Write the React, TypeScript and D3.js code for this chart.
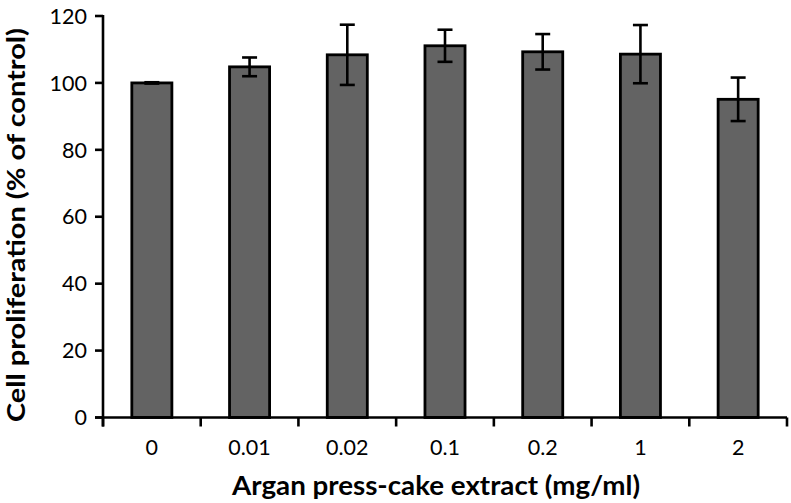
import React from "react";
import * as d3 from "d3";

const categories = ["0", "0.01", "0.02", "0.1", "0.2", "1", "2"];
const values = [100, 104.8, 108.4, 111.1, 109.3, 108.6, 95.1];
const errors = [0.2, 2.8, 9.0, 4.8, 5.3, 8.7, 6.5];
const yTicks = [0, 20, 40, 60, 80, 100, 120];

const W = 791;
const H = 503;
const left = 103;
const right = 787;
const top = 16;
const bottom = 417.5;
const FONT = "Lato, 'Open Sans', sans-serif";

export default function App() {
  const x = d3.scaleBand<string>().domain(categories).range([left, right]).paddingInner(0.59).paddingOuter(0.295);
  const xOuter = d3.scaleBand<string>().domain(categories).range([left, right]);
  const y = d3.scaleLinear().domain([0, 120]).range([bottom, top]);
  const bw = x.bandwidth();
  const capW = 15;
  const boundaries = categories.map((c) => xOuter(c) as number).concat([right]);

  return (
    <div style={{ position: "absolute", left: 0, top: 0 }}>
      <svg width={W} height={H} style={{ display: "block", background: "#fff" }}>
        {categories.map((c, i) => {
          const bx = x(c) as number;
          const cx = bx + bw / 2;
          return (
            <g key={c}>
              <rect
                x={bx}
                y={y(values[i])}
                width={bw}
                height={y(0) - y(values[i])}
                fill="#636363"
                stroke="#000"
                strokeWidth={2.8}
              />
              <g stroke="#000" strokeWidth={2.6}>
                <line x1={cx} x2={cx} y1={y(values[i] + errors[i])} y2={y(values[i] - errors[i])} />
                <line x1={cx - capW / 2} x2={cx + capW / 2} y1={y(values[i] + errors[i])} y2={y(values[i] + errors[i])} />
                <line x1={cx - capW / 2} x2={cx + capW / 2} y1={y(values[i] - errors[i])} y2={y(values[i] - errors[i])} />
              </g>
            </g>
          );
        })}
        {/* y axis */}
        <line x1={left} x2={left} y1={top - 1} y2={bottom + 9} stroke="#000" strokeWidth={2.6} />
        {yTicks.map((t) => (
          <g key={t}>
            <line x1={left - 8} x2={left} y1={y(t)} y2={y(t)} stroke="#000" strokeWidth={2.6} />
            <text x={87} y={y(t)} dy="0.36em" textAnchor="end" fontFamily={FONT} fontSize={21.5} fill="#000">
              {t}
            </text>
          </g>
        ))}
        {/* x axis */}
        <line x1={left - 8} x2={right} y1={bottom} y2={bottom} stroke="#000" strokeWidth={2.6} />
        {boundaries.map((bxx, i) => (
          <line key={i} x1={bxx} x2={bxx} y1={bottom} y2={bottom + 9} stroke="#000" strokeWidth={2.6} />
        ))}
        {categories.map((c) => (
          <text
            key={c}
            x={(x(c) as number) + bw / 2}
            y={455}
            textAnchor="middle"
            fontFamily={FONT}
            fontSize={21.5}
            fill="#000"
          >
            {c}
          </text>
        ))}
        <text
          x={436}
          y={495}
          textAnchor="middle"
          fontFamily={FONT}
          fontWeight="bold"
          fontSize={26}
          textLength={408}
          lengthAdjust="spacingAndGlyphs"
          fill="#000"
        >
          Argan press-cake extract (mg/ml)
        </text>
        <text
          transform={`translate(25,225) rotate(-90)`}
          textAnchor="middle"
          fontFamily={FONT}
          fontWeight="bold"
          fontSize={25}
          textLength={394}
          lengthAdjust="spacingAndGlyphs"
          fill="#000"
        >
          Cell proliferation (% of control)
        </text>
      </svg>
    </div>
  );
}
